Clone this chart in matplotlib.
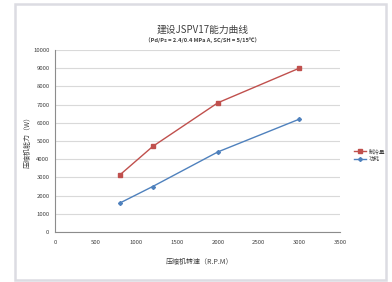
import matplotlib
matplotlib.use("Agg")
import matplotlib.pyplot as plt
from matplotlib.patches import Rectangle

plt.rcParams['font.family'] = ['Noto Sans CJK SC', 'DejaVu Sans']

rpm = [800, 1200, 2000, 3000]
cooling = [3150, 4700, 7100, 9000]
power = [1600, 2500, 4400, 6200]
series_names = ["制冷量", "功耗"]
x_ticks = [0, 500, 1000, 1500, 2000, 2500, 3000, 3500]
y_ticks = list(range(0, 10001, 1000))

W, H = 392, 282
fig = plt.figure(figsize=(W / 100, H / 100), dpi=100)
fig.patch.set_facecolor("white")

# outer frame
fig.add_artist(Rectangle((15 / W, 1 - 280 / H), (386 - 15) / W, (280 - 4) / H,
                         transform=fig.transFigure, fill=False,
                         edgecolor="#dcdce2", linewidth=1.8))

ax = fig.add_axes([55 / W, 1 - 232 / H, (340 - 55) / W, (232 - 50) / H])
ax.set_facecolor("white")

ax.plot(rpm, cooling, color="#c0504d", marker="s", markersize=3, linewidth=1.0,
        label=series_names[0])
ax.plot(rpm, power, color="#4f81bd", marker="D", markersize=2, linewidth=1.0,
        label=series_names[1])

ax.set_xlim(0, 3500)
ax.set_ylim(0, 10000)
ax.set_xticks(x_ticks)
ax.set_yticks(y_ticks)
ax.set_xticklabels([str(t) for t in x_ticks], fontsize=4.3, color="#404040")
ax.set_yticklabels([str(t) for t in y_ticks], fontsize=4.3, color="#404040")
ax.tick_params(axis="x", length=0, pad=6)
ax.tick_params(axis="y", length=0, pad=4)
ax.grid(axis="y", color="#d9d9d9", linewidth=0.8)
ax.set_axisbelow(True)
for s in ["top", "right"]:
    ax.spines[s].set_visible(False)
for s in ["left", "bottom"]:
    ax.spines[s].set_color("#8c8c8c")
    ax.spines[s].set_linewidth(0.8)

fig.text(203 / W, 1 - 30 / H, "建设JSPV17能力曲线", ha="center", va="center",
         fontsize=7, color="#404040")
fig.text(203 / W, 1 - 41 / H, "（Pd/Ps = 2.4/0.4 MPa A, SC/SH = 5/15℃）",
         ha="center", va="center", fontsize=4.1, color="#404040", fontweight="bold")
fig.text(200 / W, 1 - 262 / H, "压缩机转速（R.P.M）", ha="center", va="center",
         fontsize=5, color="#404040")
fig.text(28 / W, 1 - 140 / H, "压缩机能力（W）", ha="center", va="center",
         rotation=90, fontsize=5, color="#404040")

leg = ax.legend(loc="center left", bbox_to_anchor=(349 / W, 1 - 155 / H),
                bbox_transform=fig.transFigure, frameon=False, fontsize=4,
                handlelength=2.2, labelspacing=0.6, handletextpad=0.4)
for t in leg.get_texts():
    t.set_color("#404040")

fig.savefig("out.png", dpi=100, facecolor="white")
